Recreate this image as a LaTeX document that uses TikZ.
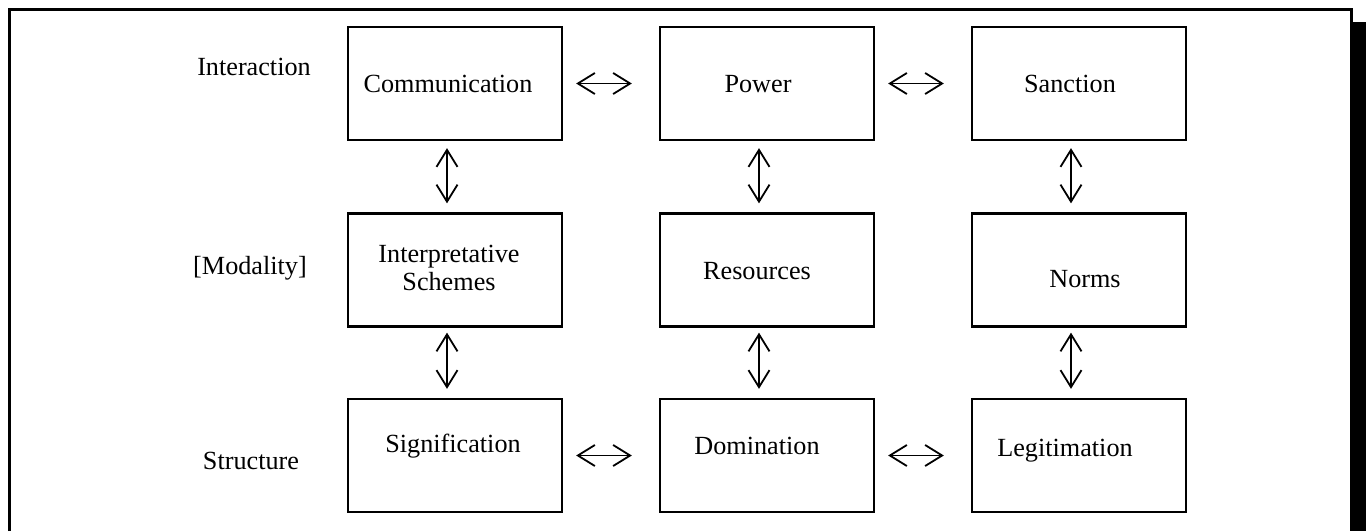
\documentclass[tikz,border=0pt]{standalone}
\usepackage{fontspec}
\setmainfont{Liberation Serif}
\usetikzlibrary{arrows.meta}
\tikzset{
  box/.style={draw, line width=2.3pt, minimum width=214pt, minimum height=113pt, inner sep=0pt},
  txt/.style={font=\fontsize{26.2}{28}\selectfont, inner sep=0pt},
  arr/.style={line width=1.8pt, {Straight Barb[length=17pt,width=21pt]}-{Straight Barb[length=17pt,width=21pt]}},
  frame/.style={line width=3pt}
}
\begin{document}
\begin{tikzpicture}[x=1pt,y=-1pt]
\useasboundingbox (0,0) rectangle (1366,531);
% frame with shadow
\draw[frame] (9,531) -- (9,9) -- (1351,9) -- (1351,22);
\fill (1350,22) rectangle (1366,531);
% row labels
\node[txt, anchor=base] (lInter) at (254,75) {Interaction};
\node[txt, anchor=base] (lMod) at (250,274) {[Modality]};
\node[txt, anchor=base] (lStr) at (251,469) {Structure};
% boxes
\node[box] (comm) at (455,83.5) {};
\node[box] (power) at (767,83.5) {};
\node[box] (sanc) at (1079,83.5) {};
\node[box] (interp) at (455,270) {};
\node[box] (res) at (767,270) {};
\node[box] (norms) at (1079,270) {};
\node[box] (sign) at (455,455.5) {};
\node[box] (dom) at (767,455.5) {};
\node[box] (legit) at (1079,455.5) {};
% box texts
\node[txt, anchor=base] (commT) at (448,92) {Communication};
\node[txt, anchor=base] (powerT) at (758,92) {Power};
\node[txt, anchor=base] (sancT) at (1070,92) {Sanction};
\node[txt, align=center] (interpT) at (449,268) {Interpretative\\Schemes};
\node[txt, anchor=base] (resT) at (757,279) {Resources};
\node[txt, anchor=base] (normsT) at (1085,287) {Norms};
\node[txt, anchor=base] (signT) at (453,452) {Signification};
\node[txt, anchor=base] (domT) at (757,454) {Domination};
\node[txt, anchor=base] (legitT) at (1065,456) {Legitimation};
% horizontal arrows
\draw[arr, shorten <=13pt, shorten >=27pt] (comm.east) -- (power.west);
\draw[arr, shorten <=13pt, shorten >=27pt] (power.east) -- (sanc.west);
\draw[arr, shorten <=13pt, shorten >=27pt] (sign.east) -- (dom.west);
\draw[arr, shorten <=13pt, shorten >=27pt] (dom.east) -- (legit.west);
% vertical arrows
\draw[arr, shorten <=7pt, shorten >=9pt] ([xshift=-8pt]comm.south) -- ([xshift=-8pt]interp.north);
\draw[arr, shorten <=7pt, shorten >=9pt] ([xshift=-8pt]power.south) -- ([xshift=-8pt]res.north);
\draw[arr, shorten <=7pt, shorten >=9pt] ([xshift=-8pt]sanc.south) -- ([xshift=-8pt]norms.north);
\draw[arr, shorten <=5pt, shorten >=9pt] ([xshift=-8pt]interp.south) -- ([xshift=-8pt]sign.north);
\draw[arr, shorten <=5pt, shorten >=9pt] ([xshift=-8pt]res.south) -- ([xshift=-8pt]dom.north);
\draw[arr, shorten <=5pt, shorten >=9pt] ([xshift=-8pt]norms.south) -- ([xshift=-8pt]legit.north);
\end{tikzpicture}
\end{document}
